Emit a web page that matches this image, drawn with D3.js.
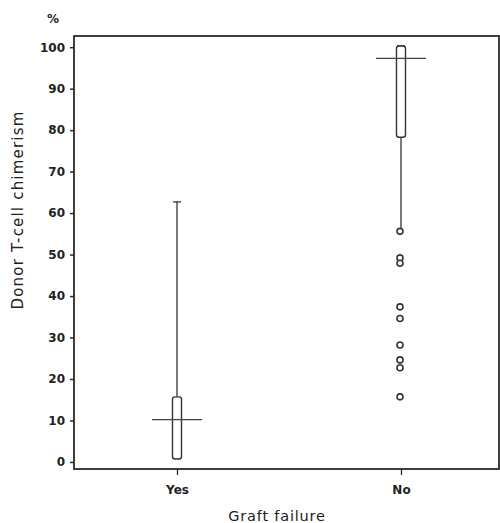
<!DOCTYPE html>
<html>
<head>
<meta charset="utf-8">
<script src="https://cdn.jsdelivr.net/npm/d3@7"></script>
<style>
  body { margin: 0; background: #fff; }
  text { font-family: "DejaVu Sans", sans-serif; fill: #222; }
</style>
</head>
<body>
<div id="chart"></div>
<script>
// values (percent donor T-cell chimerism)
var groups = ["Yes", "No"];
var q1 = [0.7, 78.3];
var medians = [10.2, 97.3];
var q3 = [15.7, 100.3];
var whiskerLow = [0.7, 56];
var whiskerHigh = [62.7, 100.3];
var outliersNo = [55.6, 49.2, 47.9, 37.4, 34.6, 28.2, 24.6, 22.7, 15.7];
var yTicks = [0, 10, 20, 30, 40, 50, 60, 70, 80, 90, 100];

var width = 500, height = 523;
var margin = { top: 36, right: 1, bottom: 54, left: 74 };

var svg = d3.select("#chart").append("svg")
    .attr("width", width)
    .attr("height", height);

var y = d3.scaleLinear()
    .domain([-1.7, 102.7])
    .range([height - margin.bottom, margin.top]);

var x = d3.scalePoint()
    .domain(groups)
    .range([177, 401]);

// frame
svg.append("rect")
    .attr("x", margin.left)
    .attr("y", margin.top)
    .attr("width", width - margin.left - margin.right)
    .attr("height", height - margin.top - margin.bottom)
    .attr("fill", "none")
    .attr("stroke", "#2a2a2a")
    .attr("stroke-width", 1.8);

// y axis
var yAxis = d3.axisLeft(y).tickValues(yTicks).tickSize(4).tickPadding(5);
var gy = svg.append("g")
    .attr("transform", "translate(" + margin.left + ",0)")
    .call(yAxis);
gy.select(".domain").remove();
gy.selectAll(".tick line").attr("stroke", "#2a2a2a").attr("stroke-width", 1.5);
gy.selectAll(".tick text")
    .style("font-family", "DejaVu Sans, sans-serif")
    .style("font-size", "12px")
    .style("font-weight", "bold")
    .attr("fill", "#2a2a2a");

// x axis
var xAxis = d3.axisBottom(x).tickSize(6).tickPadding(10);
var gx = svg.append("g")
    .attr("transform", "translate(0," + (height - margin.bottom) + ")")
    .call(xAxis);
gx.select(".domain").remove();
gx.selectAll(".tick line").attr("stroke", "#2a2a2a").attr("stroke-width", 1.3);
gx.selectAll(".tick text")
    .style("font-family", "DejaVu Sans, sans-serif")
    .style("font-size", "12px")
    .style("font-weight", "bold")
    .attr("fill", "#2a2a2a");

// axis titles
svg.append("text")
    .attr("x", 53)
    .attr("y", 23)
    .attr("text-anchor", "middle")
    .style("font-size", "12px")
    .style("font-weight", "bold")
    .text("%");

svg.append("text")
    .attr("transform", "translate(23,210) rotate(-90)")
    .attr("text-anchor", "middle")
    .style("font-size", "15px")
    .style("letter-spacing", "1.2px")
    .text("Donor T-cell chimerism");

svg.append("text")
    .attr("x", 277)
    .attr("y", 521)
    .attr("text-anchor", "middle")
    .style("font-size", "14.5px")
    .style("letter-spacing", "0.8px")
    .text("Graft failure");

// boxes
var boxW = 9, capW = 8, medW = 50;
var stats = groups.map(function(g, i) {
  return { g: g, q1: q1[i], med: medians[i], q3: q3[i], lo: whiskerLow[i], hi: whiskerHigh[i] };
});

var box = svg.selectAll(".box")
    .data(stats)
    .enter().append("g")
      .attr("class", "box");

box.append("line")
    .attr("x1", function(d) { return x(d.g); })
    .attr("x2", function(d) { return x(d.g); })
    .attr("y1", function(d) { return y(d.lo); })
    .attr("y2", function(d) { return y(d.hi); })
    .attr("stroke", "#333")
    .attr("stroke-width", 1.3);

box.append("line")
    .attr("x1", function(d) { return x(d.g) - capW / 2; })
    .attr("x2", function(d) { return x(d.g) + capW / 2; })
    .attr("y1", function(d) { return y(d.hi); })
    .attr("y2", function(d) { return y(d.hi); })
    .attr("stroke", "#333")
    .attr("stroke-width", 1.3);

box.append("rect")
    .attr("x", function(d) { return x(d.g) - boxW / 2; })
    .attr("y", function(d) { return y(d.q3); })
    .attr("width", boxW)
    .attr("height", function(d) { return y(d.q1) - y(d.q3); })
    .attr("rx", 2.5)
    .attr("fill", "#fff")
    .attr("stroke", "#333")
    .attr("stroke-width", 1.4);

box.append("line")
    .attr("x1", function(d) { return x(d.g) - medW / 2; })
    .attr("x2", function(d) { return x(d.g) + medW / 2; })
    .attr("y1", function(d) { return y(d.med); })
    .attr("y2", function(d) { return y(d.med); })
    .attr("stroke", "#444")
    .attr("stroke-width", 1.3);

// outliers of the "No" group
svg.selectAll(".outlier")
    .data(outliersNo)
    .enter().append("circle")
      .attr("class", "outlier")
      .attr("cx", x("No") - 1)
      .attr("cy", function(d) { return y(d); })
      .attr("r", 3)
      .attr("fill", "#fff")
      .attr("stroke", "#333")
      .attr("stroke-width", 1.6);
</script>
</body>
</html>
